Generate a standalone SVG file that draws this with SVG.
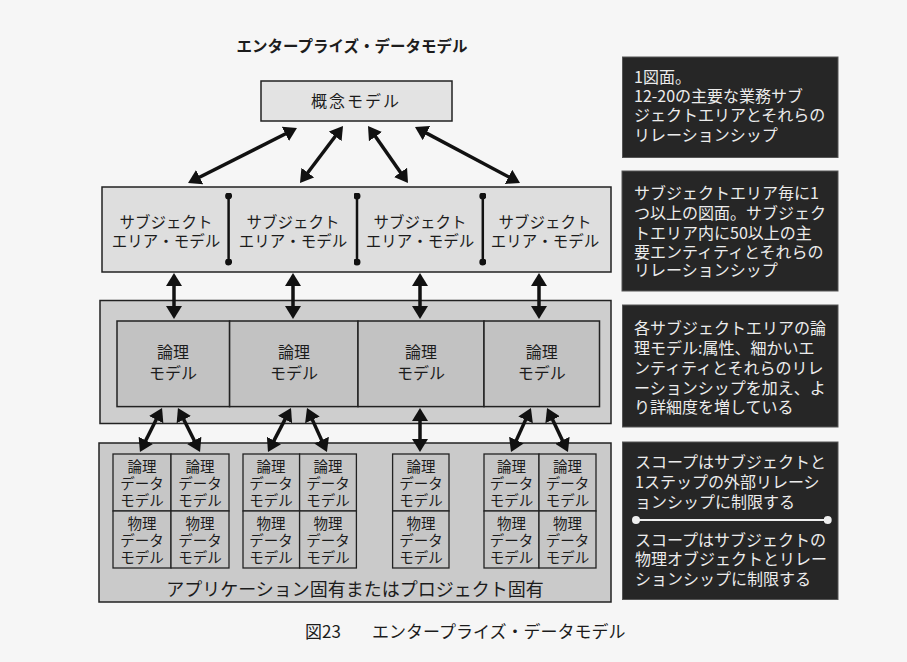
<svg xmlns="http://www.w3.org/2000/svg" width="907" height="662" viewBox="0 0 907 662">
<style>
text{font-family:"Noto Sans CJK JP","Noto Sans CJK SC",sans-serif;fill:#1c1c1c}
.box{stroke:#222;stroke-width:1.5}
.band{stroke:#222;stroke-width:1.5}
.cell{fill:#c6c6c6;stroke:#222;stroke-width:1.3}
.dark{fill:#262626;stroke:#555;stroke-width:1}
.wt{fill:#ececec;font-size:16px}
.arr{stroke:#111;stroke-width:3.5;fill:none;marker-start:url(#ah);marker-end:url(#ah)}
.c{text-anchor:middle}
.s15{font-size:15.5px}
.s16{font-size:16px}
.s14{font-size:14.5px}
</style>
<defs>
<marker id="ah" viewBox="0 0 13 16" refX="8" refY="8" markerWidth="13" markerHeight="16" markerUnits="userSpaceOnUse" orient="auto-start-reverse">
<path d="M0,0 L13,8 L0,16 z" fill="#111"/>
</marker>
<marker id="dot" viewBox="0 0 8 8" refX="4" refY="4" markerWidth="7" markerHeight="7" markerUnits="userSpaceOnUse">
<circle cx="4" cy="4" r="4" fill="#111"/>
</marker>
<marker id="wdot" viewBox="0 0 8 8" refX="4" refY="4" markerWidth="8" markerHeight="8" markerUnits="userSpaceOnUse">
<circle cx="4" cy="4" r="4" fill="#eee"/>
</marker>
</defs>
<rect x="0" y="0" width="907" height="662" fill="#f6f6f6"/>

<text id="title" x="352" y="51.5" class="c" style="font-size:15.5px;font-weight:bold">エンタープライズ・データモデル</text>

<g id="concept">
<rect class="box" x="261" y="81" width="191" height="40" fill="#e3e3e3"/>
<text x="356" y="107" class="c s16" letter-spacing="2">概念モデル</text>
</g>

<g id="subject-band">
<rect class="band" x="102" y="187" width="509" height="85" fill="#dedede"/>
<line x1="228.6" y1="196" x2="228.6" y2="262" stroke="#111" stroke-width="2.5" marker-start="url(#dot)" marker-end="url(#dot)"/>
<line x1="357" y1="196" x2="357" y2="262" stroke="#111" stroke-width="2.5" marker-start="url(#dot)" marker-end="url(#dot)"/>
<line x1="482.8" y1="196" x2="482.8" y2="262" stroke="#111" stroke-width="2.5" marker-start="url(#dot)" marker-end="url(#dot)"/>
</g>
<g id="sa1"><text class="c s15" x="166" y="227.7">サブジェクト</text><text class="c s15" x="166" y="246.7">エリア・モデル</text></g>
<g id="sa2"><text class="c s15" x="293" y="227.7">サブジェクト</text><text class="c s15" x="293" y="246.7">エリア・モデル</text></g>
<g id="sa3"><text class="c s15" x="420" y="227.7">サブジェクト</text><text class="c s15" x="420" y="246.7">エリア・モデル</text></g>
<g id="sa4"><text class="c s15" x="545" y="227.7">サブジェクト</text><text class="c s15" x="545" y="246.7">エリア・モデル</text></g>

<g id="logical-band">
<rect class="band" x="100" y="300.5" width="511" height="123" fill="#cecece"/>
</g>
<g id="lm1"><rect class="box" x="117" y="321" width="112.6" height="85.6" fill="#c2c2c2"/><text class="c s16" x="173" y="358.4">論理</text><text class="c s16" x="173" y="378.7">モデル</text></g>
<g id="lm2"><rect class="box" x="229.6" y="321" width="128.4" height="85.6" fill="#c2c2c2"/><text class="c s16" x="294" y="358.4">論理</text><text class="c s16" x="294" y="378.7">モデル</text></g>
<g id="lm3"><rect class="box" x="358" y="321" width="126" height="85.6" fill="#c2c2c2"/><text class="c s16" x="421" y="358.4">論理</text><text class="c s16" x="421" y="378.7">モデル</text></g>
<g id="lm4"><rect class="box" x="484" y="321" width="115.5" height="85.6" fill="#c2c2c2"/><text class="c s16" x="541.7" y="358.4">論理</text><text class="c s16" x="541.7" y="378.7">モデル</text></g>

<g id="app-band">
<rect class="band" x="99" y="443" width="512" height="159" fill="#cacaca"/>
<text class="c" x="355" y="595.5" style="font-size:18px">アプリケーション固有またはプロジェクト固有</text>
</g>

<g id="grid1">
<rect class="cell" x="113" y="454" width="58" height="57"/><rect class="cell" x="171" y="454" width="58" height="57"/>
<rect class="cell" x="113" y="511" width="58" height="57"/><rect class="cell" x="171" y="511" width="58" height="57"/>
<text class="c s14" x="142" y="472.4">論理</text><text class="c s14" x="142" y="489.4">データ</text><text class="c s14" x="142" y="506.4">モデル</text>
<text class="c s14" x="200" y="472.4">論理</text><text class="c s14" x="200" y="489.4">データ</text><text class="c s14" x="200" y="506.4">モデル</text>
<text class="c s14" x="142" y="529.4">物理</text><text class="c s14" x="142" y="546.4">データ</text><text class="c s14" x="142" y="563.4">モデル</text>
<text class="c s14" x="200" y="529.4">物理</text><text class="c s14" x="200" y="546.4">データ</text><text class="c s14" x="200" y="563.4">モデル</text>
</g>
<g id="grid2">
<rect class="cell" x="243" y="454" width="56.6" height="57"/><rect class="cell" x="299.6" y="454" width="56.8" height="57"/>
<rect class="cell" x="243" y="511" width="56.6" height="57"/><rect class="cell" x="299.6" y="511" width="56.8" height="57"/>
<text class="c s14" x="271" y="472.4">論理</text><text class="c s14" x="271" y="489.4">データ</text><text class="c s14" x="271" y="506.4">モデル</text>
<text class="c s14" x="328" y="472.4">論理</text><text class="c s14" x="328" y="489.4">データ</text><text class="c s14" x="328" y="506.4">モデル</text>
<text class="c s14" x="271" y="529.4">物理</text><text class="c s14" x="271" y="546.4">データ</text><text class="c s14" x="271" y="563.4">モデル</text>
<text class="c s14" x="328" y="529.4">物理</text><text class="c s14" x="328" y="546.4">データ</text><text class="c s14" x="328" y="563.4">モデル</text>
</g>
<g id="grid3">
<rect class="cell" x="392.6" y="454" width="56.4" height="57"/>
<rect class="cell" x="392.6" y="511" width="56.4" height="57"/>
<text class="c s14" x="421" y="472.4">論理</text><text class="c s14" x="421" y="489.4">データ</text><text class="c s14" x="421" y="506.4">モデル</text>
<text class="c s14" x="421" y="529.4">物理</text><text class="c s14" x="421" y="546.4">データ</text><text class="c s14" x="421" y="563.4">モデル</text>
</g>
<g id="grid4">
<rect class="cell" x="484" y="454" width="55" height="57"/><rect class="cell" x="539" y="454" width="57" height="57"/>
<rect class="cell" x="484" y="511" width="55" height="57"/><rect class="cell" x="539" y="511" width="57" height="57"/>
<text class="c s14" x="511.5" y="472.4">論理</text><text class="c s14" x="511.5" y="489.4">データ</text><text class="c s14" x="511.5" y="506.4">モデル</text>
<text class="c s14" x="567.5" y="472.4">論理</text><text class="c s14" x="567.5" y="489.4">データ</text><text class="c s14" x="567.5" y="506.4">モデル</text>
<text class="c s14" x="511.5" y="529.4">物理</text><text class="c s14" x="511.5" y="546.4">データ</text><text class="c s14" x="511.5" y="563.4">モデル</text>
<text class="c s14" x="567.5" y="529.4">物理</text><text class="c s14" x="567.5" y="546.4">データ</text><text class="c s14" x="567.5" y="563.4">モデル</text>
</g>

<g id="connectors">
<line class="arr" x1="292.5" y1="130.3" x2="192.5" y2="180.8"/>
<line class="arr" x1="340" y1="130" x2="303" y2="179"/>
<line class="arr" x1="370.9" y1="130.1" x2="405.1" y2="178.9"/>
<line class="arr" x1="419.4" y1="129.4" x2="515.6" y2="180.6"/>
<line class="arr" x1="174" y1="278" x2="174" y2="314"/>
<line class="arr" x1="293" y1="278" x2="293" y2="314"/>
<line class="arr" x1="420" y1="278" x2="420" y2="314"/>
<line class="arr" x1="539" y1="278" x2="539" y2="314"/>
<line class="arr" x1="159.8" y1="412.5" x2="142.2" y2="447.5"/>
<line class="arr" x1="180.2" y1="412.5" x2="197.8" y2="447.5"/>
<line class="arr" x1="288.7" y1="412.4" x2="270.3" y2="447.6"/>
<line class="arr" x1="309.1" y1="412.6" x2="324.9" y2="447.4"/>
<line class="arr" x1="420" y1="413" x2="420" y2="447"/>
<line class="arr" x1="528.9" y1="412.6" x2="513.1" y2="447.4"/>
<line class="arr" x1="549.2" y1="412.5" x2="565.8" y2="447.5"/>
</g>

<g id="note1">
<rect class="dark" x="622.5" y="57" width="215.5" height="100.5"/>
<text class="wt" x="634" y="82.6">1図面。</text>
<text class="wt" x="634" y="102.4">12-20の主要な業務サブ</text>
<text class="wt" x="634" y="121.4">ジェクトエリアとそれらの</text>
<text class="wt" x="634" y="141">リレーションシップ</text>
</g>
<g id="note2">
<rect class="dark" x="622" y="171" width="216" height="120"/>
<text class="wt" x="634" y="199.2">サブジェクトエリア毎に1</text>
<text class="wt" x="634" y="219">つ以上の図面。サブジェク</text>
<text class="wt" x="634" y="238.5">トエリア内に50以上の主</text>
<text class="wt" x="634" y="257.6">要エンティティとそれらの</text>
<text class="wt" x="634" y="276">リレーションシップ</text>
</g>
<g id="note3">
<rect class="dark" x="622.5" y="305" width="215.5" height="122"/>
<text class="wt" x="634" y="334.2">各サブジェクトエリアの論</text>
<text class="wt" x="634" y="354.2">理モデル:属性、細かいエ</text>
<text class="wt" x="634" y="374.2">ンティティとそれらのリレ</text>
<text class="wt" x="634" y="394.2">ーションシップを加え、よ</text>
<text class="wt" x="634" y="413.2">り詳細度を増している</text>
</g>
<g id="note4">
<rect class="dark" x="622.5" y="442" width="215.5" height="157.5"/>
<text class="wt" x="635" y="467.6">スコープはサブジェクトと</text>
<text class="wt" x="635" y="487.6">1ステップの外部リレーシ</text>
<text class="wt" x="635" y="507.6">ョンシップに制限する</text>
<line x1="636" y1="520" x2="827.7" y2="520" stroke="#eee" stroke-width="2" marker-start="url(#wdot)" marker-end="url(#wdot)"/>
<text class="wt" x="635" y="545.9">スコープはサブジェクトの</text>
<text class="wt" x="635" y="565.2">物理オブジェクトとリレー</text>
<text class="wt" x="635" y="585.2">ションシップに制限する</text>
</g>

<text id="caption" y="638" style="font-size:17px"><tspan x="305">図23</tspan><tspan x="372">エンタープライズ・データモデル</tspan></text>
</svg>
